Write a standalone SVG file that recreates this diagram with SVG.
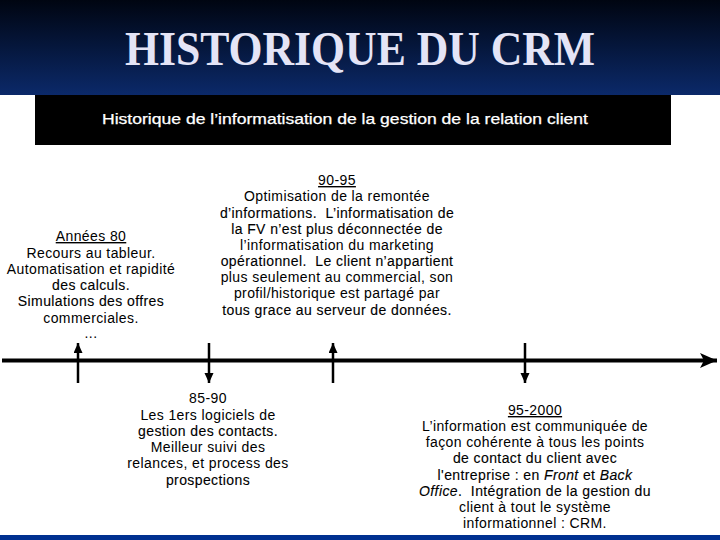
<svg xmlns="http://www.w3.org/2000/svg" width="720" height="540" viewBox="0 0 720 540">
<defs>
<linearGradient id="hdr" x1="0" y1="0" x2="0" y2="1">
<stop offset="0" stop-color="#000511"/>
<stop offset="1" stop-color="#0b2969"/>
</linearGradient>
<marker id="ah" markerUnits="userSpaceOnUse" markerWidth="10" markerHeight="10" refX="10" refY="4.5" orient="auto">
<path d="M0,0 L10,4.5 L0,9 z" fill="#000"/>
</marker>
<marker id="ahBig" markerUnits="userSpaceOnUse" markerWidth="18" markerHeight="16" refX="17" refY="7.5" orient="auto">
<path d="M0,0 L17,7.5 L0,15 L4,7.5 z" fill="#000"/>
</marker>
<style>
.t{font-family:"Liberation Sans",Arial,sans-serif;font-size:14px;fill:#000;text-anchor:middle;letter-spacing:0.4px}
.b{stroke:#000;stroke-width:0.12}
.u{text-decoration:underline}
.ax{stroke:#000;fill:none}
</style>
</defs>
<rect x="0" y="0" width="720" height="540" fill="#fff"/>
<rect x="0" y="0" width="720" height="95" fill="url(#hdr)"/>
<rect x="0" y="535" width="720" height="5" fill="#003090"/>
<g id="title">
<text x="360" y="65" font-family="'Liberation Serif','Times New Roman',serif" font-weight="bold" font-size="48" fill="#e4e4f6" text-anchor="middle" textLength="470" lengthAdjust="spacingAndGlyphs">HISTORIQUE DU CRM</text>
</g>
<g id="subtitle">
<rect x="35" y="95" width="636" height="50" fill="#000"/>
<text x="345" y="124" font-family="'Liberation Sans',Arial,sans-serif" font-size="14" fill="#fff" stroke="#fff" stroke-width="0.25" text-anchor="middle" textLength="486" lengthAdjust="spacingAndGlyphs">Historique de l’informatisation de la gestion de la relation client</text>
</g>
<g id="connectors">
<line class="ax" x1="2" y1="360.5" x2="717" y2="360.5" stroke-width="4" marker-end="url(#ahBig)"/>
<line class="ax" x1="78" y1="383" x2="78" y2="343" stroke-width="2.5" marker-end="url(#ah)"/>
<line class="ax" x1="209" y1="343" x2="209" y2="383" stroke-width="2.5" marker-end="url(#ah)"/>
<line class="ax" x1="333" y1="383" x2="333" y2="343" stroke-width="2.5" marker-end="url(#ah)"/>
<line class="ax" x1="525" y1="343" x2="525" y2="383" stroke-width="2.5" marker-end="url(#ah)"/>
</g>
<g id="annees80">
<text class="t u" x="91" y="241">Années 80</text>
<text class="t" x="91" y="258">Recours au tableur.</text>
<text class="t" x="91" y="274">Automatisation et rapidité</text>
<text class="t b" x="91" y="290">des calculs.</text>
<text class="t b" x="91" y="306">Simulations des offres</text>
<text class="t" x="91" y="323">commerciales.</text>
<text class="t" x="91" y="338" font-size="10">...</text>
</g>
<g id="p90-95">
<text class="t u" x="337" y="185">90-95</text>
<text class="t" x="337" y="201">Optimisation de la remontée</text>
<text class="t b" x="337" y="217.5">d’informations.&#160; L’informatisation de</text>
<text class="t b" x="337" y="234">la FV n’est plus déconnectée de</text>
<text class="t" x="337" y="250">l’informatisation du marketing</text>
<text class="t b" x="337" y="266">opérationnel.&#160; Le client n’appartient</text>
<text class="t" x="337" y="282">plus seulement au commercial, son</text>
<text class="t" x="337" y="298">profil/historique est partagé par</text>
<text class="t b" x="337" y="315">tous grace au serveur de données.</text>
</g>
<g id="p85-90">
<text class="t" x="208" y="403">85-90</text>
<text class="t" x="208" y="419.5">Les 1ers logiciels de</text>
<text class="t b" x="208" y="436">gestion des contacts.</text>
<text class="t" x="208" y="452">Meilleur suivi des</text>
<text class="t" x="208" y="468">relances, et process des</text>
<text class="t b" x="208" y="484.5">prospections</text>
</g>
<g id="p95-2000">
<text class="t u" x="535" y="415">95-2000</text>
<text class="t" x="535" y="431">L’information est communiquée de</text>
<text class="t" x="535" y="447">façon cohérente à tous les points</text>
<text class="t b" x="535" y="463">de contact du client avec</text>
<text class="t b" x="535" y="479.5">l'entreprise : en <tspan font-style="italic">Front</tspan> et <tspan font-style="italic">Back</tspan></text>
<text class="t b" x="535" y="496"><tspan font-style="italic">Office</tspan>.&#160; Intégration de la gestion du</text>
<text class="t" x="535" y="512">client à tout le système</text>
<text class="t" x="535" y="528">informationnel : CRM.</text>
</g>
</svg>
